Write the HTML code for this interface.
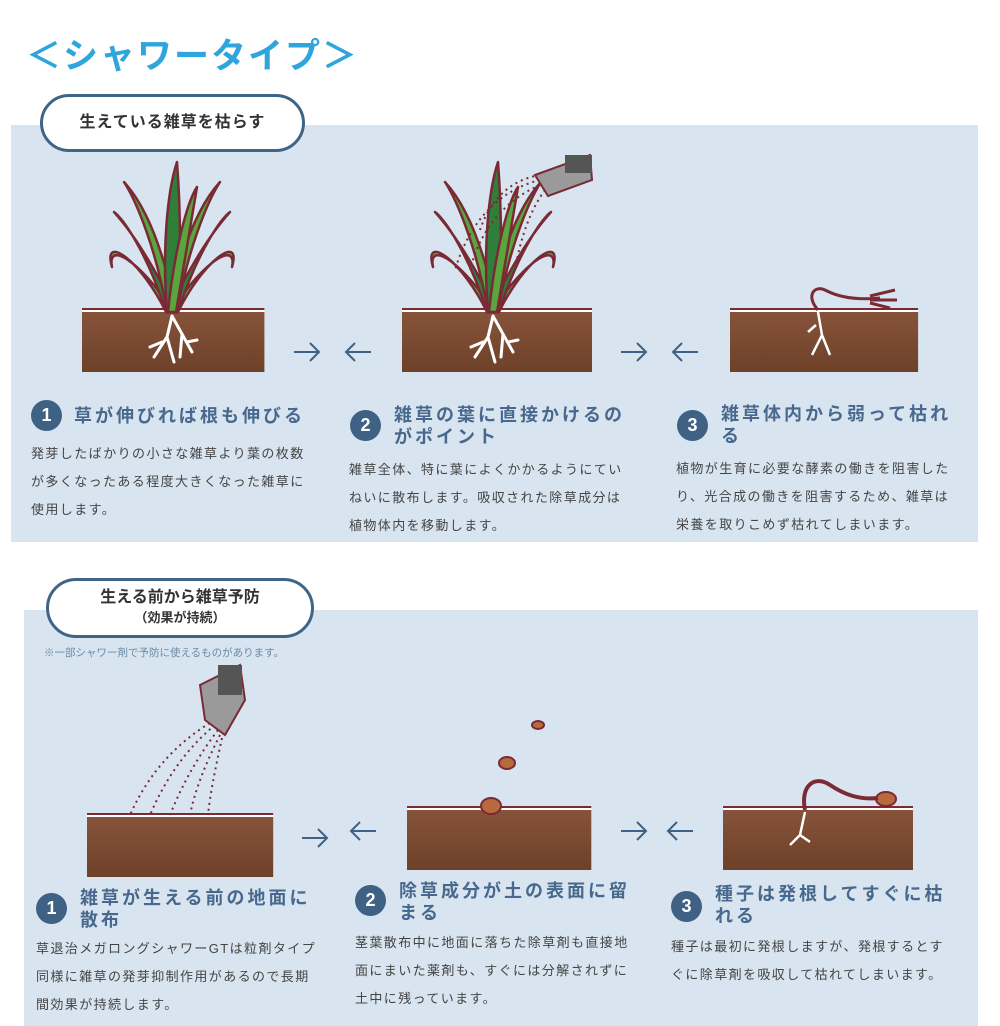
<!DOCTYPE html>
<html><head><meta charset="utf-8"><style>
body{margin:0;width:1000px;height:1026px;background:#fff;position:relative;overflow:hidden;font-family:"Liberation Sans","Noto Sans CJK JP",sans-serif}
.abs{position:absolute}
.panel{position:absolute;background:#d8e5f0}
.pill{position:absolute;background:#fff;border:3px solid #3f6486;border-radius:40px;text-align:center;color:#333;font-weight:bold;box-sizing:border-box}
.h{position:absolute;color:#48698d;font-weight:bold;font-size:18px;letter-spacing:3px;line-height:22px;width:250px}
.n{position:absolute;width:31px;height:31px;border-radius:50%;background:#3f6184;color:#fff;font-weight:bold;font-size:18px;text-align:center;line-height:31px}
.b{position:absolute;color:#444;font-size:13px;letter-spacing:1.4px;line-height:28px;width:283px}
</style></head><body>
<div class="abs" style="left:26px;top:28px;color:#2ea5dc;font-size:35px;letter-spacing:2px;font-weight:bold">＜シャワータイプ＞</div>

<div class="panel" style="left:11px;top:125px;width:967px;height:417px"></div>
<div class="pill" style="left:40px;top:94px;width:265px;height:58px;line-height:52px;font-size:16px;letter-spacing:1px">生えている雑草を枯らす</div>

<div class="panel" style="left:24px;top:610px;width:954px;height:416px"></div>
<div class="pill" style="left:46px;top:578px;width:268px;height:60px;font-size:16px;padding-top:7px;line-height:20px">生える前から雑草予防<br><span style="font-size:13px">（効果が持続）</span></div>
<div class="abs" style="left:44px;top:645px;font-size:10.5px;color:#6a8aa8">※一部シャワー剤で予防に使えるものがあります。</div>

<svg class="abs" style="left:0;top:0" width="1000" height="1026">
<defs>
<linearGradient id="soil" x1="0" y1="0" x2="0" y2="1"><stop offset="0" stop-color="#86533a"/><stop offset="1" stop-color="#6e4129"/></linearGradient>
<g id="grass">
<g stroke="#7a2a35" stroke-width="2.5" stroke-linejoin="round">
<path d="M-6 0 C-30 -50 -70 -80 -60 -45 C-65 -70 -35 -55 2 0Z" fill="#5aa53d"/>
<path d="M6 0 C30 -50 70 -80 60 -45 C65 -70 35 -55 -2 0Z" fill="#5aa53d"/>
<path d="M-6 0 C-25 -60 -50 -95 -58 -100 C-40 -80 -20 -50 4 0Z" fill="#2f7e3a"/>
<path d="M6 0 C25 -60 50 -95 58 -100 C40 -80 20 -50 -4 0Z" fill="#2f7e3a"/>
<path d="M-5 0 C-15 -60 -35 -110 -48 -130 C-25 -105 -8 -60 4 0Z" fill="#5aa53d"/>
<path d="M5 0 C15 -60 35 -110 48 -130 C25 -105 8 -60 -4 0Z" fill="#5aa53d"/>
<path d="M-5 0 C-10 -60 -5 -120 5 -150 C8 -110 10 -60 5 0Z" fill="#2f7e3a"/>
<path d="M-4 0 C2 -60 15 -110 25 -125 C20 -95 12 -50 4 0Z" fill="#5aa53d"/>
</g>
<g stroke="#fff" stroke-width="3" fill="none" stroke-linecap="round">
<path d="M0 4 L-5 25 L-18 45 M-5 25 L2 50 M0 4 L10 22 L20 40 M10 22 L8 45 M-10 30 L-22 35 M15 30 L25 28"/>
</g>
</g>
<g id="soil1"><rect x="0" y="0" width="190" height="60" fill="url(#soil)"/><line x1="0" y1="-1" x2="190" y2="-1" stroke="#fff" stroke-width="2"/><line x1="0" y1="-3" x2="190" y2="-3" stroke="#7a2a35" stroke-width="2"/></g>
<g id="ra" stroke="#3f6184" stroke-width="2" fill="none"><path d="M0 0 H25 M16 -9 L25 0 L16 9"/></g>
<g id="la" stroke="#3f6184" stroke-width="2" fill="none"><path d="M0 0 H25 M9 -9 L0 0 L9 9"/></g>
</defs>
<g transform="translate(82,312) scale(0.96,1)"><use href="#soil1"/></g>
<g transform="translate(402,312)"><use href="#soil1"/></g>
<g transform="translate(730,312) scale(0.99,1)"><use href="#soil1"/></g>
<use href="#grass" transform="translate(172,312)"/>
<use href="#grass" transform="translate(493,312)"/>
<g stroke="#7a2a35" stroke-width="2" fill="none" stroke-dasharray="2 4">
<path d="M540 180 C500 190 470 220 455 270"/><path d="M540 185 C505 200 480 230 470 270"/><path d="M540 175 C510 180 490 200 480 230"/><path d="M545 190 C530 210 520 240 515 270"/>
</g>
<path d="M535 175 L590 155 L592 180 L548 196Z" fill="#9a9a9a" stroke="#7a2a35" stroke-width="2"/>
<rect x="565" y="155" width="27" height="18" fill="#555"/>
<g stroke="#7a2a35" stroke-width="3" fill="none"><path d="M818 310 C805 295 815 285 825 290 C840 298 860 300 880 298"/><path d="M870 296 L895 290 M870 300 L897 300 M870 303 L890 308"/></g>
<g stroke="#fff" stroke-width="2.5" fill="none"><path d="M818 312 L822 335 L812 355 M822 335 L830 355 M816 325 L808 332"/></g>
<g transform="translate(87,817) scale(0.98,1)"><use href="#soil1"/></g>
<g transform="translate(407,810) scale(0.97,1)"><use href="#soil1"/></g>
<g transform="translate(723,810)"><use href="#soil1"/></g>
<g stroke="#7a2a35" stroke-width="2" fill="none" stroke-dasharray="2 4">
<path d="M215 720 C180 740 150 770 130 815"/><path d="M215 725 C185 750 165 780 150 815"/><path d="M218 730 C195 760 180 790 170 815"/><path d="M220 735 C205 765 195 790 190 815"/><path d="M222 738 C215 770 210 795 208 815"/>
</g>
<path d="M200 685 L240 665 L245 700 L225 735 L205 720Z" fill="#9a9a9a" stroke="#7a2a35" stroke-width="2"/>
<rect x="218" y="665" width="24" height="30" fill="#555"/>
<g fill="#b86a3c" stroke="#7a2a35" stroke-width="2"><ellipse cx="538" cy="725" rx="6" ry="4"/><ellipse cx="507" cy="763" rx="8" ry="6"/><ellipse cx="491" cy="806" rx="10" ry="8"/><ellipse cx="886" cy="799" rx="10" ry="7"/></g>
<g stroke="#7a2a35" stroke-width="4" fill="none"><path d="M805 810 C800 785 815 775 830 785 C845 795 860 800 878 798"/></g>
<g stroke="#fff" stroke-width="2.5" fill="none"><path d="M805 812 L800 835 L790 845 M800 835 L810 842"/></g>
<use href="#ra" transform="translate(294,352)"/><use href="#la" transform="translate(346,352)"/>
<use href="#ra" transform="translate(621,352)"/><use href="#la" transform="translate(673,352)"/>
<use href="#ra" transform="translate(302,838)"/><use href="#la" transform="translate(351,831)"/>
<use href="#ra" transform="translate(621,831)"/><use href="#la" transform="translate(668,831)"/>
</svg>

<div class="n" style="left:31px;top:400px">1</div>
<div class="h" style="left:74px;top:405px">草が伸びれば根も伸びる</div>
<div class="b" style="left:31px;top:440px">発芽したばかりの小さな雑草より葉の枚数が多くなったある程度大きくなった雑草に使用します。</div>

<div class="n" style="left:350px;top:410px">2</div>
<div class="h" style="left:394px;top:404px">雑草の葉に直接かけるのがポイント</div>
<div class="b" style="left:349px;top:456px">雑草全体、特に葉によくかかるようにていねいに散布します。吸収された除草成分は植物体内を移動します。</div>

<div class="n" style="left:677px;top:410px">3</div>
<div class="h" style="left:721px;top:403px">雑草体内から弱って枯れる</div>
<div class="b" style="left:676px;top:455px">植物が生育に必要な酵素の働きを阻害したり、光合成の働きを阻害するため、雑草は栄養を取りこめず枯れてしまいます。</div>

<div class="n" style="left:36px;top:893px">1</div>
<div class="h" style="left:80px;top:887px">雑草が生える前の地面に散布</div>
<div class="b" style="left:36px;top:935px">草退治メガロングシャワーGTは粒剤タイプ同様に雑草の発芽抑制作用があるので長期間効果が持続します。</div>

<div class="n" style="left:355px;top:885px">2</div>
<div class="h" style="left:399px;top:880px">除草成分が土の表面に留まる</div>
<div class="b" style="left:355px;top:929px">茎葉散布中に地面に落ちた除草剤も直接地面にまいた薬剤も、すぐには分解されずに土中に残っています。</div>

<div class="n" style="left:671px;top:891px">3</div>
<div class="h" style="left:715px;top:883px">種子は発根してすぐに枯れる</div>
<div class="b" style="left:671px;top:933px">種子は最初に発根しますが、発根するとすぐに除草剤を吸収して枯れてしまいます。</div>
</body></html>
